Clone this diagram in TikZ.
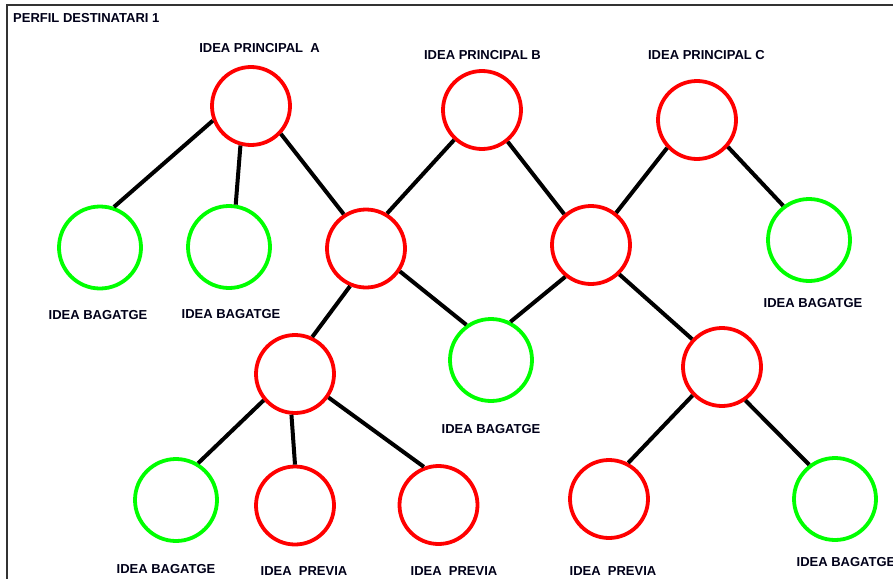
\documentclass[tikz,border=0pt]{standalone}
\usepackage{fontspec}
\setmainfont{Liberation Sans}
\begin{document}
\begin{tikzpicture}[x=1pt,y=-1pt,
  idea/.style={circle,draw,line width=3.8pt,inner sep=0pt},
  redidea/.style={idea,draw=red,minimum size=78pt},
  greenidea/.style={idea,draw=green,minimum size=82pt},
  link/.style={line width=4pt,black},
  lbl/.style={inner sep=0pt,text=black!90!blue,font=\bfseries\fontsize{13}{15}\selectfont},
  frameline/.style={line width=1.4pt,black!80}
]
\useasboundingbox (0,0) rectangle (893,578);
\clip (0,0) rectangle (893,578);
\fill[white] (0,0) rectangle (893,578);

% outer frame (left and top edges)
\coordinate (fbl) at (7,580);
\coordinate (ftl) at (7,5);
\coordinate (ftr) at (895,5);
\draw[frameline] (fbl) -- (ftl) -- (ftr);

\node[lbl,anchor=west] (title) at (13,18.5) {PERFIL DESTINATARI 1};

% main ideas
\node[redidea] (A) at (251,106) {};
\node[redidea] (B) at (482,110) {};
\node[redidea] (C) at (697,120) {};
% second level
\node[greenidea] (G1) at (100,247.5) {};
\node[greenidea] (G2) at (229,247) {};
\node[redidea] (M1) at (366,248.5) {};
\node[redidea] (M2) at (591,245) {};
\node[greenidea] (G3) at (809,240) {};
% third level
\node[redidea] (L1) at (295,374) {};
\node[greenidea] (G4) at (491,360) {};
\node[redidea] (R1) at (722,367) {};
% fourth level
\node[greenidea] (G5) at (176,500) {};
\node[redidea] (P1) at (295,505.5) {};
\node[redidea] (P2) at (438.5,505) {};
\node[redidea] (P3) at (609,499) {};
\node[greenidea] (G6) at (835,499) {};

% labels
\node[lbl] (lA) at (259.5,48.5) {IDEA PRINCIPAL\ \ A};
\node[lbl] (lB) at (482.5,55.5) {IDEA PRINCIPAL B};
\node[lbl] (lC) at (706.5,55.5) {IDEA PRINCIPAL C};
\node[lbl] (lG1) at (98,315) {IDEA BAGATGE};
\node[lbl] (lG2) at (231,314) {IDEA BAGATGE};
\node[lbl] (lG3) at (813,303) {IDEA BAGATGE};
\node[lbl] (lG4) at (491,429) {IDEA BAGATGE};
\node[lbl] (lG5) at (166,569.5) {IDEA BAGATGE};
\node[lbl] (lP1) at (304,571.5) {IDEA\ \ PREVIA};
\node[lbl] (lP2) at (454,571.5) {IDEA\ \ PREVIA};
\node[lbl] (lP3) at (613,571.5) {IDEA\ \ PREVIA};
\node[lbl] (lG6) at (846,562.5) {IDEA BAGATGE};

% connectors
\draw[link] (A.201) -- (G1.71);
\draw[link] (A.255) -- (G2.81);
\draw[link] (A.317) -- (M1.123);
\draw[link] (B.227) -- (M1.59);
\draw[link] (B.309) -- (M2.131);
\draw[link] (C.223) -- (M2.52);
\draw[link] (C.319) -- (G3.127);
\draw[link] (M1.247) -- (L1.65);
\draw[link] (M1.326) -- (G4.125);
\draw[link] (M2.231) -- (G4.63);
\draw[link] (M2.314) -- (R1.137);
\draw[link] (L1.220) -- (G5.59);
\draw[link] (L1.265) -- (P1.90);
\draw[link] (L1.325) -- (P2.111);
\draw[link] (R1.224) -- (P3.62);
\draw[link] (R1.305) -- (G6.127);
\end{tikzpicture}
\end{document}
